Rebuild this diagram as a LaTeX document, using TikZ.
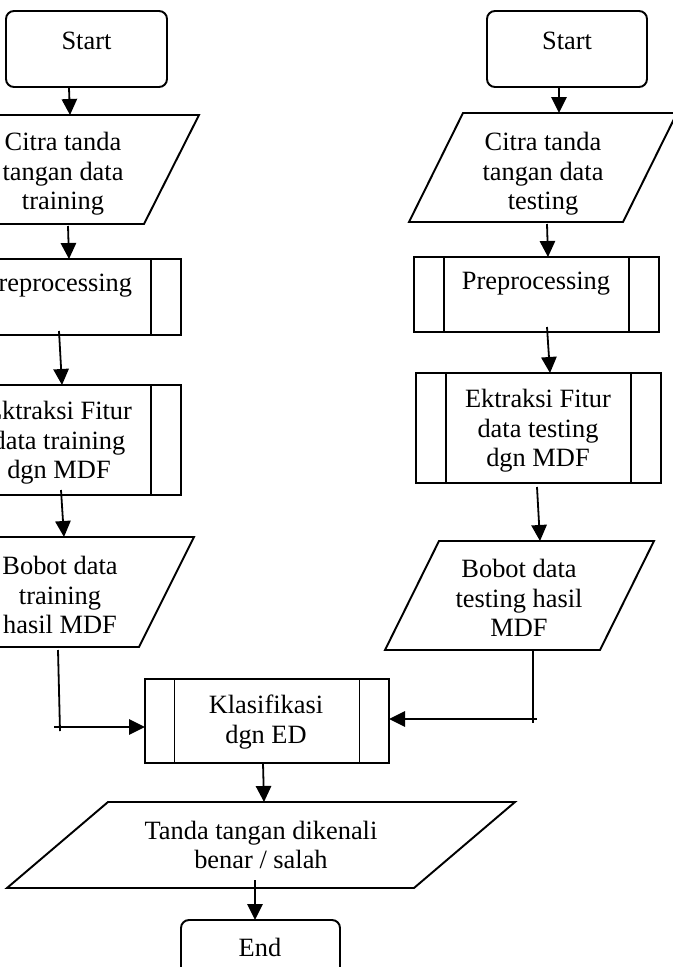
\documentclass[tikz,border=0pt]{standalone}
\usepackage{fontspec}
\setmainfont{Liberation Serif}
\usetikzlibrary{arrows.meta,calc}
\newcommand\drawpara[2]{\draw[edge] ($(#1.north west)+(#2,0)$) -- (#1.north east) -- ($(#1.south east)+(-#2,0)$) -- (#1.south west) -- cycle;}
\newcommand\drawbars[2]{\draw[edge] ($(#1.north west)+(#2,0)$) -- ($(#1.south west)+(#2,0)$);
  \draw[edge] ($(#1.north east)+(-#2,0)$) -- ($(#1.south east)+(-#2,0)$);}
\tikzset{
  sz/.style 2 args={minimum width=#1*0.75pt, minimum height=#2*0.75pt},
  base/.style={inner sep=0pt, outer sep=0pt, line width=1.45pt},
  term/.style={base, draw, rounded corners=6pt},
  proc/.style={base, draw},
  io/.style={base, draw=none},
  edge/.style={line width=1.45pt, line join=miter},
  txt/.style={inner sep=0pt, align=center, font=\fontsize{19.8}{22.2}\selectfont},
  arr/.style={line width=1.35pt, -{Triangle[length=12pt,width=11.5pt]}},
  ln/.style={line width=1.35pt},
}
\begin{document}
\begin{tikzpicture}[x=0.75pt,y=-0.75pt]
\clip (0,0) rectangle (673,967);
\fill[white] (0,0) rectangle (673,967);
% shapes
\node[term, sz={161}{76}] (startL) at (86.5,49) {};
\node[term, sz={160}{76}] (startR) at (567,49) {};
\node[io, sz={272}{109}] (inL) at (63,169.5) {};
\node[io, sz={268}{109}] (inR) at (543,167.5) {};
\node[proc, sz={245}{76}] (preL) at (58.5,297) {};
\node[proc, sz={245}{75}] (preR) at (536.5,294.5) {};
\node[proc, sz={245}{110}] (ekL) at (58.5,440) {};
\node[proc, sz={245}{110}] (ekR) at (538.5,428) {};
\node[io, sz={268}{110}] (boL) at (60,592) {};
\node[io, sz={269}{109}] (boR) at (519.5,595.5) {};
\node[proc, sz={244}{84}] (kl) at (267,721) {};
\node[io, sz={508}{86}] (out) at (261,845) {};
\node[term, sz={159}{77}] (endN) at (260.5,958.5) {};
\drawpara{inL}{55}
\drawpara{inR}{54}
\drawpara{boL}{55}
\drawpara{boR}{54}
\drawpara{out}{101}
\drawbars{preL}{30}
\drawbars{preR}{30}
\drawbars{ekL}{30}
\drawbars{ekR}{30}
\drawbars{kl}{29.5}
% texts
\node[txt] (tStartL) at (86.5,41) {Start};
\node[txt] (tStartR) at (567,41) {Start};
\node[txt] (tInL) at (63,174) {Citra tanda\\tangan data\\training};
\node[txt] (tInR) at (543,174) {Citra tanda\\tangan data\\testing};
\node[txt] (tPreL) at (58,286) {Preprocessing};
\node[txt] (tPreR) at (536,284) {Preprocessing};
\node[txt] (tEkL) at (59,443) {Ektraksi Fitur\\data training\\dgn MDF};
\node[txt] (tEkR) at (538,431) {Ektraksi Fitur\\data testing\\dgn MDF};
\node[txt] (tBoL) at (60,595) {Bobot data\\training\\hasil MDF};
\node[txt] (tBoR) at (519,598) {Bobot data\\testing hasil\\MDF};
\node[txt] (tKl) at (266,722) {Klasifikasi\\dgn ED};
\node[txt] (tOut) at (261,845) {Tanda tangan dikenali\\benar / salah};
\node[txt] (tEnd) at (260,947) {End};
% junction points
\coordinate (jLlow) at (60,731);
\coordinate (jLleft) at (54,727);
\coordinate (jRlow) at (533,723);
\coordinate (jRright) at (537,719);
% connectors
\draw[arr] ($(startL.south)+(-17.5,1)$) -- ($(inL.north)+(7,0)$);
\draw[arr] ($(startR.south)+(-8,0)$) -- ($(inR.north)+(16,0)$);
\draw[arr] ($(inL.south)+(5,2)$) -- ($(preL.north)+(10.5,0)$);
\draw[arr] ($(inR.south)+(4,2)$) -- ($(preR.north)+(11.5,0)$);
\draw[arr] ($(preL.south)+(0.5,-4)$) -- ($(ekL.north)+(3.5,0)$);
\draw[arr] ($(preR.south)+(10.5,-5)$) -- ($(ekR.north)+(11.5,0)$);
\draw[arr] ($(ekL.south)+(2.5,-5)$) -- ($(boL.north)+(4,0)$);
\draw[arr] ($(ekR.south)+(-1.5,4)$) -- ($(boR.north)+(20.5,0)$);
\draw[ln] ($(boL.south)+(-2,3)$) -- (jLlow);
\draw[arr] (jLleft) -- ($(kl.west)+(0,6)$);
\draw[ln] ($(boR.south)+(13.5,1)$) -- (jRlow);
\draw[arr] (jRright) -- ($(kl.east)+(0,-2)$);
\draw[arr] ($(kl.south)+(-4,0)$) -- ($(out.north)+(3,0)$);
\draw[arr] ($(out.south)+(-6,-8)$) -- ($(endN.north)+(-5.5,0)$);
\end{tikzpicture}
\end{document}
